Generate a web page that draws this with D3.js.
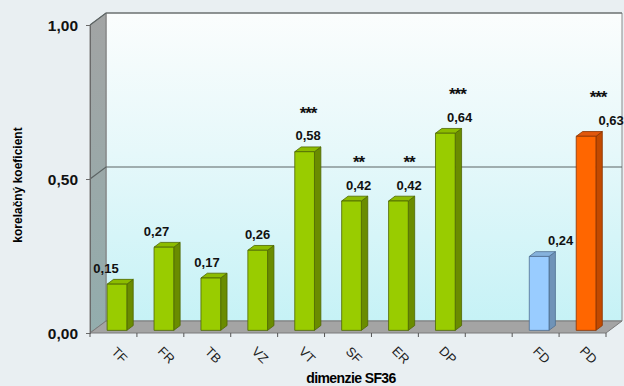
<!DOCTYPE html>
<html>
<head>
<meta charset="utf-8">
<script src="https://cdn.jsdelivr.net/npm/d3@7"></script>
<style>
  html, body { margin: 0; padding: 0; background: #e9eff2; }
  svg { display: block; font-family: "Liberation Sans", Arial, sans-serif; }
</style>
</head>
<body>
<svg id="chart" width="624" height="386"></svg>
<script>
// SF36 dimensions (empty slot separates the two summary scores)
const categories = ["TF", "FR", "TB", "VZ", "VT", "SF", "ER", "DP", "", "FD", "PD"];
const values     = [0.15, 0.27, 0.17, 0.26, 0.58, 0.42, 0.42, 0.64, null, 0.24, 0.63];
const stars      = ["", "", "", "", "***", "**", "**", "***", "", "", "***"];
const groups     = ["dim", "dim", "dim", "dim", "dim", "dim", "dim", "dim", "", "fd", "pd"];
const yTicks     = [0, 0.5, 1];
const yTickLabels = ["0,00", "0,50", "1,00"];

const fmt = v => v.toFixed(2).replace(".", ",");

const palette = {
  dim: { front: "#99cc00", side: "#6a8c00", top: "#8cbc00", stroke: "#4d6600" },
  fd:  { front: "#99ccff", side: "#6f93b8", top: "#86b2dc", stroke: "#4f6f90" },
  pd:  { front: "#ff6600", side: "#c24a00", top: "#e0580c", stroke: "#8a3300" }
};

const svg = d3.select("#chart");

// front plane of the 3D box
const x = d3.scaleBand().domain(d3.range(categories.length)).range([90, 606]).paddingInner(0).paddingOuter(0);
const y = d3.scaleLinear().domain([0, 1]).range([333, 25]);
// depth offset of the box (back wall relative to the front plane)
const DX = 16, DY = -12;
const P = (px, py, z) => [px + z * DX, py + z * DY];

const defs = svg.append("defs");
const wallGrad = defs.append("linearGradient").attr("id", "wall").attr("x1", 0).attr("y1", 0).attr("x2", 0).attr("y2", 1);
wallGrad.append("stop").attr("offset", "0%").attr("stop-color", "#fbfdfd");
wallGrad.append("stop").attr("offset", "45%").attr("stop-color", "#e6f8fa");
wallGrad.append("stop").attr("offset", "100%").attr("stop-color", "#c6f2f6");
const sideGrad = defs.append("linearGradient").attr("id", "side").attr("x1", 0).attr("y1", 0).attr("x2", 0).attr("y2", 1);
sideGrad.append("stop").attr("offset", "0%").attr("stop-color", "#a2a4a4");
sideGrad.append("stop").attr("offset", "100%").attr("stop-color", "#93adad");

const x0 = x.range()[0], x1 = x.range()[1];
const poly = pts => "M" + pts.map(p => p.join(",")).join("L") + "Z";

// back wall
const bw0 = P(x0, y(1), 1), bw1 = P(x1, y(1), 1), bw2 = P(x1, y(0), 1), bw3 = P(x0, y(0), 1);
svg.append("path").attr("d", poly([bw0, bw1, bw2, bw3])).attr("fill", "url(#wall)")
  .attr("stroke", "#8a8a8a").attr("stroke-width", 1);

// left side wall
svg.append("path").attr("d", poly([[x0, y(1)], P(x0, y(1), 1), P(x0, y(0), 1), [x0, y(0)]]))
  .attr("fill", "url(#side)").attr("stroke", "#7c7c7c").attr("stroke-width", 1);

// floor
svg.append("path").attr("d", poly([[x0, y(0)], [x1, y(0)], P(x1, y(0), 1), P(x0, y(0), 1)]))
  .attr("fill", "#a4a4a4").attr("stroke", "#7a7a7a").attr("stroke-width", 1);

// gridlines: diagonal across the side wall, then horizontal on the back wall
yTicks.filter(t => t > 0).forEach(t => {
  const a = [x0, y(t)], b = P(x0, y(t), 1), c = P(x1, y(t), 1);
  svg.append("path").attr("d", "M" + a.join(",") + "L" + b.join(",") + "L" + c.join(","))
    .attr("fill", "none").attr("stroke", "#5c6464").attr("stroke-width", 1.2);
});

// y axis (front edge) with ticks and labels
const yAxis = d3.axisLeft(y).tickValues(yTicks).tickSize(4).tickFormat((d, i) => yTickLabels[i]);
const yg = svg.append("g").attr("transform", `translate(${x0},0)`).call(yAxis);
yg.select(".domain").attr("stroke", "#6a6a6a");
yg.selectAll(".tick line").attr("stroke", "#6a6a6a");
yg.selectAll(".tick text").attr("x", -12).attr("dy", "0.36em")
  .attr("font-size", 15.5).attr("font-weight", "bold").attr("fill", "#111")
  .attr("font-family", "'Liberation Sans', Arial, sans-serif");

// x axis ticks at band boundaries
const bounds = d3.range(categories.length + 1).map(i => x0 + i * x.bandwidth());
svg.append("g").selectAll("line").data(bounds).join("line")
  .attr("x1", d => d).attr("x2", d => d).attr("y1", y(0)).attr("y2", y(0) + 4)
  .attr("stroke", "#555").attr("stroke-width", 1);

// bars
const Z0 = 0.22, Z1 = 0.62, BW = 0.42;
const bars = categories.map((c, i) => ({ c, v: values[i], s: stars[i], g: groups[i], i }))
  .filter(d => d.v !== null);

const barG = svg.append("g");
bars.forEach(d => {
  const col = palette[d.g];
  const bl = x(d.i) + (x.bandwidth() * (1 - BW)) / 2;
  const br = bl + x.bandwidth() * BW;
  const f0 = P(bl, y(d.v), Z0), f1 = P(br, y(d.v), Z0), f2 = P(br, y(0), Z0), f3 = P(bl, y(0), Z0);
  const b1 = P(br, y(d.v), Z1), b2 = P(br, y(0), Z1), b0 = P(bl, y(d.v), Z1);
  const g = barG.append("g");
  g.append("path").attr("d", poly([f1, b1, b2, f2])).attr("fill", col.side)
    .attr("stroke", col.stroke).attr("stroke-width", 0.8);
  g.append("path").attr("d", poly([f0, b0, b1, f1])).attr("fill", col.top)
    .attr("stroke", col.stroke).attr("stroke-width", 0.8);
  g.append("path").attr("d", poly([f0, f1, f2, f3])).attr("fill", col.front)
    .attr("stroke", col.stroke).attr("stroke-width", 0.8);

  const faceCx = (f0[0] + f1[0]) / 2;
  const faceTop = f0[1];
  // labels drift outward across the plot like the perspective labels of the original
  const shift = -20 + 0.077 * faceCx;
  svg.append("text").attr("x", faceCx + shift).attr("y", faceTop - 11.5)
    .attr("text-anchor", "middle").attr("font-size", 13).attr("font-weight", "bold")
    .attr("fill", "#111").text(fmt(d.v));
  if (d.s) {
    svg.append("text").attr("x", faceCx + Math.min(shift, 12)).attr("y", faceTop - 33)
      .attr("text-anchor", "middle").attr("font-size", 17).attr("font-weight", "bold")
      .attr("letter-spacing", -1).attr("fill", "#111").text(d.s);
  }
});

// category labels, rotated
svg.append("g").selectAll("text").data(categories.map((c, i) => ({ c, i })).filter(d => d.c))
  .join("text")
  .attr("transform", d => `translate(${x(d.i) + x.bandwidth() / 2 + 6},${y(0) + 22}) rotate(45)`)
  .attr("text-anchor", "middle").attr("dominant-baseline", "central")
  .attr("font-size", 13).attr("fill", "#222").text(d => d.c);

// axis titles
svg.append("text").attr("x", 351).attr("y", 383).attr("text-anchor", "middle")
  .attr("font-size", 14).attr("font-weight", "bold").attr("letter-spacing", -0.6)
  .attr("fill", "#000").text("dimenzie SF36");

svg.append("text").attr("transform", "translate(22,185) rotate(-90)").attr("text-anchor", "middle")
  .attr("font-size", 12).attr("font-weight", "bold").attr("fill", "#000")
  .text("korelačný koeficient");
</script>
</body>
</html>
